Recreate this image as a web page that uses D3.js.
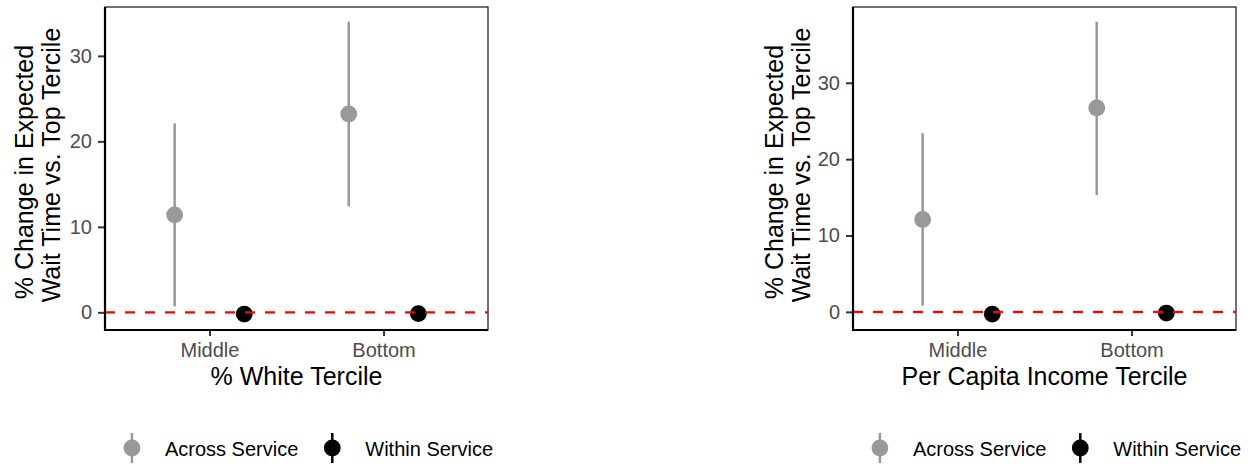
<!DOCTYPE html>
<html>
<head>
<meta charset="utf-8">
<script src="https://cdn.jsdelivr.net/npm/d3@7"></script>
<style>
  body { margin: 0; background: #fff; }
  svg { display: block; font-family: "Liberation Sans", Arial, sans-serif; }
</style>
</head>
<body>
<svg id="chart" width="1254" height="468"></svg>
<script>
// ---------------- data ----------------
const categories = ["Middle", "Bottom"];
const seriesNames = ["Across Service", "Within Service"];
const yTicks = [0, 10, 20, 30];

// Panel 1: % White Tercile
const whiteAcrossEst = [11.4, 23.2];
const whiteAcrossLo  = [0.7, 12.4];
const whiteAcrossHi  = [22.1, 34.0];
const whiteWithinEst = [-0.2, -0.15];
const whiteWithinLo  = [-0.35, -0.3];
const whiteWithinHi  = [-0.05, 0.0];

// Panel 2: Per Capita Income Tercile
const incomeAcrossEst = [12.1, 26.7];
const incomeAcrossLo  = [0.8, 15.3];
const incomeAcrossHi  = [23.4, 38.0];
const incomeWithinEst = [-0.3, -0.15];
const incomeWithinLo  = [-0.45, -0.3];
const incomeWithinHi  = [-0.15, 0.0];

const xTitles = ["% White Tercile", "Per Capita Income Tercile"];
const yTitleLines = ["% Change in Expected", "Wait Time vs. Top Tercile"];

// ---------------- styles ----------------
const colors = { "Across Service": "#999999", "Within Service": "#000000" };
const FONT_TICK = 20, FONT_TITLE = 25, FONT_LEGEND = 20;

function build(acE, acL, acH, wiE, wiL, wiH) {
  const rows = [];
  categories.forEach((c, i) => {
    rows.push({ cat: c, series: seriesNames[0], est: acE[i], lo: acL[i], hi: acH[i] });
    rows.push({ cat: c, series: seriesNames[1], est: wiE[i], lo: wiL[i], hi: wiH[i] });
  });
  return rows;
}

const panels = [
  { left: 105, right: 488, top: 7, bottom: 330, title: xTitles[0], titleOff: [-72, -45],
    rows: build(whiteAcrossEst, whiteAcrossLo, whiteAcrossHi, whiteWithinEst, whiteWithinLo, whiteWithinHi) },
  { left: 853, right: 1236, top: 7, bottom: 330, title: xTitles[1], titleOff: [-70, -43],
    rows: build(incomeAcrossEst, incomeAcrossLo, incomeAcrossHi, incomeWithinEst, incomeWithinLo, incomeWithinHi) }
];

const svg = d3.select("#chart");

panels.forEach(p => {
  const g = svg.append("g");
  const lo = d3.min(p.rows, d => d.lo), hi = d3.max(p.rows, d => d.hi);
  const pad = (hi - lo) * 0.05;
  const y = d3.scaleLinear().domain([lo - pad, hi + pad]).range([p.bottom, p.top]);
  const x = d3.scalePoint().domain(categories).range([p.left, p.right]).padding(0.6);
  const dodge = x.step() * 0.2;
  const xd = d => x(d.cat) + (d.series === seriesNames[0] ? -dodge : dodge);

  // top/right border
  g.append("rect")
    .attr("x", p.left).attr("y", p.top)
    .attr("width", p.right - p.left).attr("height", p.bottom - p.top)
    .attr("fill", "none").attr("stroke", "#222").attr("stroke-width", 1.3);

  // error bars
  g.selectAll("line.err").data(p.rows).join("line")
    .attr("x1", xd).attr("x2", xd)
    .attr("y1", d => y(d.lo)).attr("y2", d => y(d.hi))
    .attr("stroke", d => colors[d.series]).attr("stroke-width", 2.5);

  // points
  g.selectAll("circle.pt").data(p.rows).join("circle")
    .attr("cx", xd).attr("cy", d => y(d.est)).attr("r", 8.4)
    .attr("fill", d => colors[d.series]);

  // reference line at 0
  g.append("line")
    .attr("x1", p.left).attr("x2", p.right)
    .attr("y1", y(0)).attr("y2", y(0))
    .attr("stroke", "#ff0000").attr("stroke-width", 2.2)
    .attr("stroke-dasharray", "10,10");

  // y axis
  const ya = g.append("g").attr("transform", `translate(${p.left},0)`)
    .call(d3.axisLeft(y).tickValues(yTicks).tickSize(7).tickPadding(6).tickFormat(d3.format("d")));
  ya.select(".domain").remove();
  ya.selectAll(".tick line").attr("stroke", "#333").attr("stroke-width", 2);
  ya.selectAll(".tick text").attr("fill", "#4d4d4d").attr("font-size", FONT_TICK)
    .attr("font-family", "Liberation Sans, Arial, sans-serif");

  // x axis
  const xa = g.append("g").attr("transform", `translate(0,${p.bottom})`)
    .call(d3.axisBottom(x).tickSize(6).tickPadding(6));
  xa.select(".domain").remove();
  xa.selectAll(".tick line").attr("stroke", "#333").attr("stroke-width", 2);
  xa.selectAll(".tick text").attr("fill", "#4d4d4d").attr("font-size", FONT_TICK)
    .attr("font-family", "Liberation Sans, Arial, sans-serif")
    .attr("dy", null).attr("y", 27);

  // axis lines (left and bottom)
  g.append("line").attr("x1", p.left).attr("x2", p.left)
    .attr("y1", p.top).attr("y2", p.bottom + 1)
    .attr("stroke", "#000").attr("stroke-width", 2.2);
  g.append("line").attr("x1", p.left - 1).attr("x2", p.right)
    .attr("y1", p.bottom).attr("y2", p.bottom)
    .attr("stroke", "#000").attr("stroke-width", 2.2);

  // x title
  const cx = (p.left + p.right) / 2;
  g.append("text").attr("x", cx).attr("y", 385)
    .attr("text-anchor", "middle").attr("font-size", FONT_TITLE).attr("fill", "#000")
    .text(p.title);

  // y title (two lines)
  const cy = (p.top + p.bottom) / 2;
  const cyOff = [3.5, -3.5];
  yTitleLines.forEach((t, i) => {
    g.append("text")
      .attr("transform", `translate(${p.left + p.titleOff[i]},${cy + cyOff[i]}) rotate(-90)`)
      .attr("text-anchor", "middle").attr("font-size", FONT_TITLE).attr("fill", "#000")
      .text(t);
  });

  // legend
  const lg = g.append("g");
  const keyY = 448;
  let cursor = 0;
  const items = [];
  seriesNames.forEach((s, i) => {
    const it = lg.append("g");
    it.append("line").attr("x1", 0).attr("x2", 0).attr("y1", keyY - 15).attr("y2", keyY + 15)
      .attr("stroke", colors[s]).attr("stroke-width", 2.5);
    it.append("circle").attr("cx", 0).attr("cy", keyY).attr("r", 8.4).attr("fill", colors[s]);
    const tx = it.append("text").attr("x", 33).attr("y", keyY + 8)
      .attr("font-size", FONT_LEGEND).attr("fill", "#000").text(s);
    const w = tx.node().getComputedTextLength();
    it.attr("transform", `translate(${cursor},0)`);
    items.push({ start: cursor - 9, end: cursor + 33 + w });
    cursor += 33 + w + 34;
  });
  const totalStart = items[0].start, totalEnd = items[items.length - 1].end;
  const legendCenter = cx + 11.5;
  lg.attr("transform", `translate(${legendCenter - (totalStart + totalEnd) / 2},0)`);
});
</script>
</body>
</html>
